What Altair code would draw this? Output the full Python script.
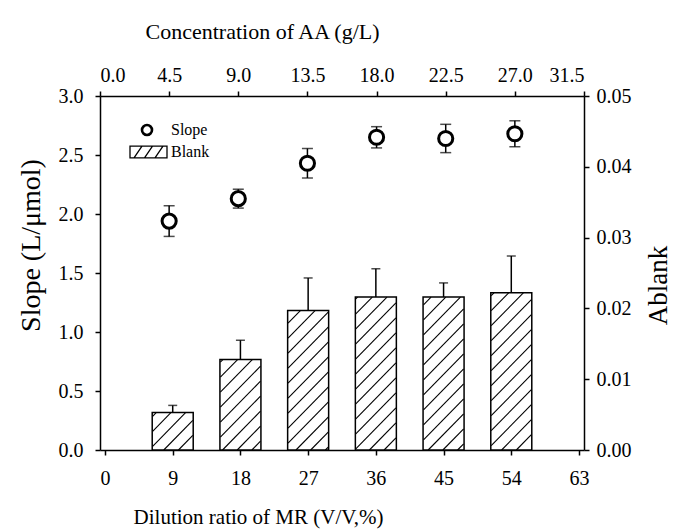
import math
import altair as alt
import numpy as np
import pandas as pd

# ---- data ----
dilution = [9, 18, 27, 36, 45, 54]                 # Dilution ratio of MR (V/V, %)
concentration = [4.5, 9.0, 13.5, 18.0, 22.5, 27.0]  # Concentration of AA (g/L)
slope = [1.94, 2.13, 2.43, 2.65, 2.64, 2.68]        # Slope (L/umol)
slope_err = [0.13, 0.08, 0.125, 0.09, 0.12, 0.11]
blank = [0.0053, 0.0128, 0.0197, 0.0216, 0.0216, 0.0222]  # A_blank
blank_err = [0.0010, 0.0027, 0.0046, 0.0040, 0.0020, 0.0052]

dil_ticks = [0, 9, 18, 27, 36, 45, 54, 63]
conc_ticks = [0, 4.5, 9, 13.5, 18, 22.5, 27, 31.5]
slope_ticks = [0, 0.5, 1.0, 1.5, 2.0, 2.5, 3.0]
blank_ticks = [0, 0.01, 0.02, 0.03, 0.04, 0.05]
legend_labels = ["Slope", "Blank"]

# ---- layout / style ----
W, H = 484, 354
BAR_PX = 41
HATCH_PX = 15
FONT = "Liberation Serif"

bars_df = pd.DataFrame({"dil": dilution, "blank": blank, "err": blank_err})
bars_df["top"] = bars_df["blank"] + bars_df["err"]

pts_df = pd.DataFrame({"conc": concentration, "slope": slope, "err": slope_err})
pts_df["lo"] = pts_df["slope"] - pts_df["err"]
pts_df["hi"] = pts_df["slope"] + pts_df["err"]

# hatch segments (45 deg in screen space), derived from the bar data
kx = W / 63.0
ky = H / 0.05
segs = []
for d, b in zip(dilution, blank):
    xl = d * kx - BAR_PX / 2
    xr = d * kx + BAR_PX / 2
    h = b * ky
    k0 = math.ceil((xl - h) / HATCH_PX)
    k1 = math.floor(xr / HATCH_PX)
    for k in range(k0, k1 + 1):
        c = k * HATCH_PX
        x0 = max(xl, c)
        x1 = min(xr, h + c)
        if x1 - x0 > 0.5:
            segs.append({"hx1": x0 / kx, "hx2": x1 / kx,
                         "hy1": (x0 - c) / ky, "hy2": (x1 - c) / ky})
hatch_df = pd.DataFrame(segs)

xb_scale = alt.Scale(domain=[0, 63], nice=False, zero=False)
yr_scale = alt.Scale(domain=[0, 0.05], nice=False)
xt_scale = alt.Scale(domain=[0, 31.5], nice=False, zero=False)
yl_scale = alt.Scale(domain=[0, 3.0], nice=False)

xb_axis = alt.Axis(orient="bottom", values=dil_ticks, format="d",
                   title="Dilution ratio of MR (V/V,%)", titleFontSize=21,
                   titleX=158, labelPadding=13, titlePadding=18)
yr_axis = alt.Axis(orient="right", values=blank_ticks, format=".2f",
                   title="Ablank", titleFontSize=27, titleAngle=270,
                   titleY=189, labelPadding=7, titlePadding=41)
xt_axis = alt.Axis(orient="top", values=conc_ticks, format=".1f",
                   title="Concentration of AA (g/L)", titleFontSize=22,
                   titleX=162, labelPadding=6, titlePadding=22)
yl_axis = alt.Axis(orient="left", values=slope_ticks, format=".1f",
                   title="Slope (L/μmol)", titleFontSize=28,
                   titleY=149, labelPadding=12, titlePadding=13)

def XB(f):
    return alt.X(f, type="quantitative", scale=xb_scale, axis=xb_axis)

def YR(f):
    return alt.Y(f, type="quantitative", scale=yr_scale, axis=yr_axis)

def XT(f):
    return alt.X(f, type="quantitative", scale=xt_scale, axis=xt_axis)

def YL(f):
    return alt.Y(f, type="quantitative", scale=yl_scale, axis=yl_axis)

bars = alt.Chart(bars_df).mark_bar(
    size=BAR_PX, orient="vertical", fill="white", stroke="black", strokeWidth=1.5
).encode(x=XB("dil"), y=YR("blank"))

hatch = alt.Chart(hatch_df).mark_rule(color="black", strokeWidth=1.1).encode(
    x=XB("hx1"), x2="hx2", y=YR("hy1"), y2="hy2")

berr = alt.Chart(bars_df).mark_rule(color="black", strokeWidth=1.5).encode(
    x=XB("dil"), y=YR("blank"), y2="top")
bcap = alt.Chart(bars_df).mark_tick(
    orient="horizontal", size=9, thickness=1.5, color="black"
).encode(x=XB("dil"), y=YR("top"))

bar_group = alt.layer(bars, hatch, berr, bcap)

perr = alt.Chart(pts_df).mark_rule(color="black", strokeWidth=1.5).encode(
    x=XT("conc"), y=YL("lo"), y2="hi")
pcap_lo = alt.Chart(pts_df).mark_tick(
    orient="horizontal", size=11, thickness=1.5, color="black"
).encode(x=XT("conc"), y=YL("lo"))
pcap_hi = alt.Chart(pts_df).mark_tick(
    orient="horizontal", size=11, thickness=1.5, color="black"
).encode(x=XT("conc"), y=YL("hi"))

points = alt.Chart(pts_df).mark_point(
    shape="circle", filled=False, color="black", fill="white", fillOpacity=1,
    strokeWidth=3, size=200, opacity=1
).encode(x=XT("conc"), y=YL("slope"))

pt_group = alt.layer(perr, pcap_lo, pcap_hi, points)

# ---- legend (drawn as a small key in the upper-left of the plot) ----
HATCH_PATH = ("M-3.7,-1.16H3.7V1.16H-3.7Z "
              "M-2.9,1.16L-1.3,-1.16 M-0.8,1.16L0.8,-1.16 M1.3,1.16L2.9,-1.16")
lg_slope = pd.DataFrame({"label": [legend_labels[0]]})
lg_blank = pd.DataFrame({"label": [legend_labels[1]]})

key_circle = alt.Chart(lg_slope).mark_point(
    shape="circle", filled=False, color="black", fill="white", fillOpacity=1,
    strokeWidth=2.6, size=100, opacity=1
).encode(x=alt.value(47), y=alt.value(34))
key_rect = alt.Chart(lg_blank).mark_point(
    shape=HATCH_PATH, filled=False, color="black", fill="white", fillOpacity=1,
    strokeWidth=1.3, size=100, opacity=1
).encode(x=alt.value(48.5), y=alt.value(56))
key_text_1 = alt.Chart(lg_slope).mark_text(
    align="left", baseline="middle", font=FONT, fontSize=16, color="black"
).encode(x=alt.value(71), y=alt.value(34), text="label:N")
key_text_2 = alt.Chart(lg_blank).mark_text(
    align="left", baseline="middle", font=FONT, fontSize=16, color="black"
).encode(x=alt.value(71), y=alt.value(56), text="label:N")

key_group = alt.layer(key_circle, key_rect, key_text_1, key_text_2)

chart = alt.layer(bar_group, pt_group, key_group).resolve_scale(
    x="independent", y="independent"
).properties(
    width=W, height=H,
    padding={"left": 100, "top": 96, "right": 94, "bottom": 82},
    autosize=alt.AutoSizeParams(type="none"),
    background="white",
).configure_view(stroke=None).configure_axis(
    labelFont=FONT, labelFontSize=20, labelColor="black",
    titleFont=FONT, titleFontWeight="normal", titleColor="black",
    domainColor="black", domainWidth=1.5, tickColor="black", tickWidth=1.5,
    tickSize=5, grid=False,
)

chart.save("out.html", embed_options={"renderer": "svg", "actions": False})
